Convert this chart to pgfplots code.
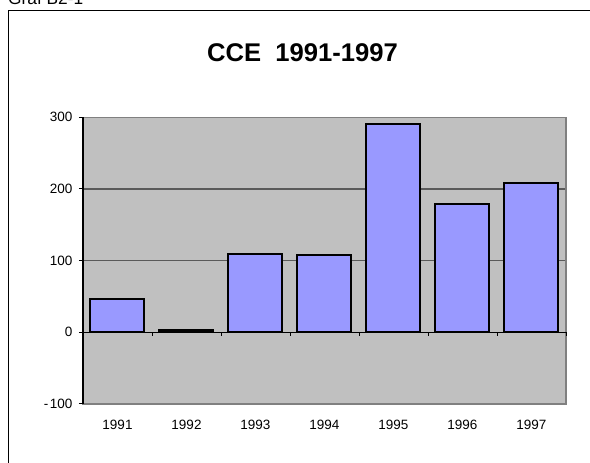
\documentclass[border=0pt]{standalone}
\usepackage{pgfplots}
\pgfplotsset{compat=1.18}
\usepackage{fontspec}
\setmainfont{Liberation Sans}
\definecolor{plotbg}{HTML}{C0C0C0}
\definecolor{barblue}{HTML}{9999FF}
\definecolor{gridc}{HTML}{5A5A5A}
\definecolor{framec}{HTML}{808080}
\begin{document}
\begin{tikzpicture}
\path[use as bounding box] (0,0) rectangle (590pt,463pt);
\fill[white] (0,0) rectangle (590pt,463pt);
\clip (0,0) rectangle (590pt,463pt);
\draw[line width=1pt,black] (8.5pt,-10pt) -- (8.5pt,452pt) -- (600pt,452pt);
\node[anchor=base west,inner sep=0pt,font=\fontsize{17.3}{20}\selectfont] at (8pt,458.5pt) {Graf B2-1};
\node[anchor=base,inner sep=0pt,font=\fontsize{25.6}{30}\selectfont\bfseries] at (302.5pt,401.5pt) {CCE\ \ 1991-1997};
\begin{axis}[
  at={(83pt,59pt)}, anchor=south west,
  scale only axis, width=483pt, height=286.7pt,
  xmin=-0.5, xmax=6.5, ymin=-100, ymax=300,
  axis background/.style={fill=plotbg},
  axis line style={draw=framec,line width=1.5pt},
  xtick={0,1,2,3,4,5,6},
  xticklabels={1991,1992,1993,1994,1995,1996,1997},
  ytick={-100,0,100,200,300},
  yticklabels={-\hspace{1.5pt}100,0,100,200,300},
  ytick pos=left, xtick pos=bottom,
  tick align=outside,
  major tick length=4pt,
  y tick style={black,line width=1pt},
  x tick style={draw=none},
  ymajorgrids, grid style={gridc,line width=1.2pt},
  /pgf/number format/assume math mode=true,
  tick label style={font=\fontsize{13.5}{16}\selectfont},
  xticklabel style={yshift=-9pt},
  yticklabel style={xshift=-3pt},
  ybar, bar width=54pt,
  clip=false,
]
\draw[black,line width=1.2pt] (axis cs:-0.5,0) -- (axis cs:6.5,0);
\addplot[fill=barblue,draw=black,line width=2pt] coordinates {
  (0,46) (1,3) (2,109) (3,108) (4,291) (5,179) (6,208)
};
\pgfplotsinvokeforeach{0.5,1.5,2.5,3.5,4.5,5.5,6.5}{
  \draw[black,line width=0.8pt] (axis cs:#1,0) -- ++(0pt,-4pt);
}
\draw[black,line width=1.5pt] (rel axis cs:0,0) -- (rel axis cs:0,1);
\end{axis}
\end{tikzpicture}
\end{document}
